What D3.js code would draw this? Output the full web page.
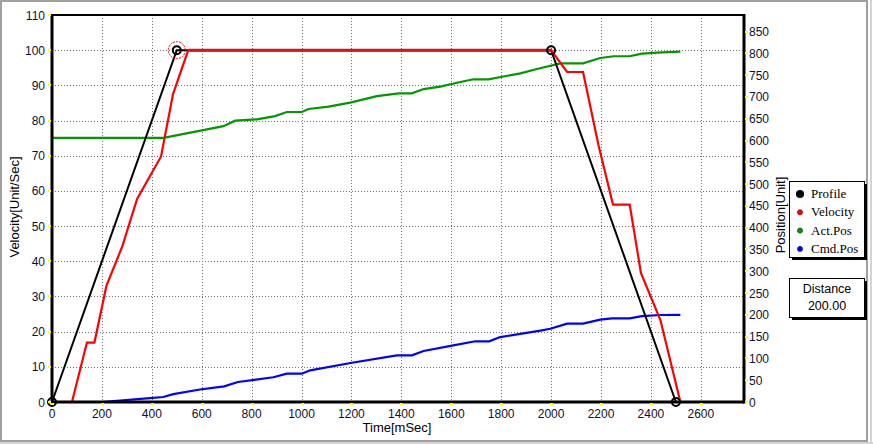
<!DOCTYPE html>
<html><head><meta charset="utf-8">
<script src="https://cdn.jsdelivr.net/npm/d3@7"></script>
<style>html,body{margin:0;padding:0;background:#fff;}svg{display:block;}</style>
</head><body>
<svg id="c" width="873" height="444"></svg>
<script>
// ---- data ----
const xTicks = [0,200,400,600,800,1000,1200,1400,1600,1800,2000,2200,2400,2600];
const velTicks = [0,10,20,30,40,50,60,70,80,90,100,110];
const posTicks = [0,50,100,150,200,250,300,350,400,450,500,550,600,650,700,750,800,850];
const profileT = [0,500,2000,2500];
const profileV = [0,100,100,0];
const velocityT = [80,140,170,218,282,341,437,485,546,2000,2064,2128,2190,2248,2315,2360,2438,2518];
const velocityV = [0,16.9,16.9,33,44.3,57.7,69.8,87.5,100,100,93.8,93.8,73,56.1,56.1,36.7,23.3,0];
const actPosT = [0,447,687,734,821,894,941,1001,1028,1108,1195,1302,1389,1442,1489,1556,1636,1689,1749,1877,1943,2037,2128,2197,2251,2315,2364,2425,2518];
const actPosV = [606,606,633,645.5,648.7,656,665.4,665.4,672.3,677.6,686.8,702,708.3,708.3,718,723.5,734.3,740.5,740.5,754.2,764,777,777,789.4,793.3,793.3,799.2,801.5,803.8];
const cmdPosT = [0,200,393,446,486,593,690,745,887,941,1001,1035,1202,1382,1442,1489,1603,1696,1752,1796,1957,1997,2064,2128,2197,2244,2315,2364,2438,2518];
const cmdPosV = [0,0,9,11.5,18,28.7,36,46,56.7,65,65,72.7,90,107,107,117,129.2,139.3,139.3,149,163.6,168,179.7,179.7,189,192,192,197,199.6,200];
const legendNames = ["Profile","Velocity","Act.Pos","Cmd.Pos"];
const legendColors = ["#000000","#ff0000","#009900","#0000ff"];
const distanceLabel = "Distance";
const distanceValue = "200.00";

// ---- layout ----
const svg = d3.select("#c");
const L = 52, R = 744, T = 15, B = 402;
const x = d3.scaleLinear().domain([0,2773]).range([L,R]);
const yv = d3.scaleLinear().domain([0,110]).range([B,T]);
const yp = d3.scaleLinear().domain([0,888]).range([B,T]);
const font = "'Liberation Sans', Arial, sans-serif";

// outer frame
svg.append("rect").attr("x",0).attr("y",0).attr("width",873).attr("height",444).attr("fill","#fff");
svg.append("rect").attr("x",1).attr("y",1).attr("width",866).attr("height",440)
  .attr("fill","none").attr("stroke","#a0a0a0").attr("stroke-width",2);
svg.append("line").attr("x1",871).attr("x2",871).attr("y1",0).attr("y2",444).attr("stroke","#d4d4d4").attr("stroke-width",2);
svg.append("line").attr("x1",0).attr("x2",873).attr("y1",443).attr("y2",443).attr("stroke","#d4d4d4").attr("stroke-width",2);

// grid
const g = svg.append("g");
g.selectAll(".gx").data(xTicks.filter(d=>d>0)).join("line")
  .attr("x1",d=>Math.round(x(d))+0.5).attr("x2",d=>Math.round(x(d))+0.5)
  .attr("y1",T).attr("y2",B).attr("stroke","#707070").attr("stroke-dasharray","1,2");
g.selectAll(".gy").data(velTicks.filter(d=>d>0 && d<110)).join("line")
  .attr("x1",L).attr("x2",R).attr("y1",d=>Math.round(yv(d))+0.5).attr("y2",d=>Math.round(yv(d))+0.5)
  .attr("stroke","#707070").attr("stroke-dasharray","1,2");

// series
const mk = (ts,vs,sc)=> d3.line().x((d,i)=>x(ts[i])).y((d,i)=>sc(vs[i]))(ts);
svg.append("path").attr("d",mk(actPosT,actPosV,yp)).attr("fill","none").attr("stroke","#009900").attr("stroke-width",2.2);
svg.append("path").attr("d",mk(cmdPosT,cmdPosV,yp)).attr("fill","none").attr("stroke","#0000ff").attr("stroke-width",2.2);
svg.append("path").attr("d",mk(profileT,profileV,yv)).attr("fill","none").attr("stroke","#000").attr("stroke-width",2);
svg.append("path").attr("d",mk(velocityT,velocityV,yv)).attr("fill","none").attr("stroke","#ff0000").attr("stroke-width",2.2);
// overlap of velocity and profile on plateau (darker red)
svg.append("path").attr("d",mk(velocityT.slice(8,10),velocityV.slice(8,10),yv)).attr("fill","none").attr("stroke","#d01818").attr("stroke-width",3);

// axes spines
svg.append("line").attr("x1",L).attr("x2",R).attr("y1",T).attr("y2",T).attr("stroke","#000").attr("stroke-width",2);
svg.append("line").attr("x1",L).attr("x2",L).attr("y1",T-1).attr("y2",B+1.5).attr("stroke","#000").attr("stroke-width",3);
svg.append("line").attr("x1",R).attr("x2",R).attr("y1",T-1).attr("y2",B+1.5).attr("stroke","#000").attr("stroke-width",3);
svg.append("line").attr("x1",L).attr("x2",R).attr("y1",B).attr("y2",B).attr("stroke","#000").attr("stroke-width",3);

// profile markers
svg.selectAll(".pm").data(profileT).join("circle")
  .attr("cx",d=>x(d)).attr("cy",(d,i)=>yv(profileV[i])).attr("r",4)
  .attr("fill","none").attr("stroke","#000").attr("stroke-width",2);
svg.append("circle").attr("cx",x(profileT[1])).attr("cy",yv(profileV[1])).attr("r",8.5)
  .attr("fill","none").attr("stroke","#ff0000").attr("stroke-width",1).attr("stroke-dasharray","2,1");

// ticks (yellow)
svg.selectAll(".tx").data(xTicks).join("rect")
  .attr("x",d=>Math.round(x(d))-1).attr("y",B+1).attr("width",3).attr("height",2).attr("fill","#ffff00");
svg.selectAll(".tyl").data(velTicks).join("rect")
  .attr("x",L-4).attr("y",d=>Math.round(yv(d))-1).attr("width",3).attr("height",2).attr("fill","#ffff00");
svg.selectAll(".tyr").data(posTicks).join("rect")
  .attr("x",R+1).attr("y",d=>Math.round(yp(d))-1).attr("width",3).attr("height",2).attr("fill","#ffff00");

// tick labels
svg.selectAll(".lx").data(xTicks).join("text")
  .attr("x",d=>x(d)).attr("y",418).attr("text-anchor","middle")
  .attr("font-family",font).attr("font-size",12).attr("fill","#101030").text(d=>d);
svg.selectAll(".lyl").data(velTicks).join("text")
  .attr("x",45).attr("y",d=>yv(d)+4.5).attr("text-anchor","end")
  .attr("font-family",font).attr("font-size",12).attr("fill","#101030").text(d=>d);
svg.selectAll(".lyr").data(posTicks).join("text")
  .attr("x",749).attr("y",d=>yp(d)+4.5).attr("text-anchor","start")
  .attr("font-family",font).attr("font-size",12).attr("fill","#101030").text(d=>d);

// axis titles
svg.append("text").attr("transform","translate(19,207) rotate(-90)").attr("text-anchor","middle")
  .attr("font-family",font).attr("font-size",13).attr("fill","#000").text("Velocity[Unit/Sec]");
svg.append("text").attr("transform","translate(785,215) rotate(-90)").attr("text-anchor","middle")
  .attr("font-family",font).attr("font-size",13).attr("fill","#000").text("Position[Unit]");
svg.append("text").attr("x",397).attr("y",432).attr("text-anchor","middle")
  .attr("font-family",font).attr("font-size",13).attr("fill","#000").text("Time[mSec]");

// legend box
const box = (x0,y0,w,h)=>{
  svg.append("rect").attr("x",x0+3).attr("y",y0+3).attr("width",w).attr("height",h).attr("fill","#000");
  svg.append("rect").attr("x",x0+0.5).attr("y",y0+0.5).attr("width",w).attr("height",h).attr("fill","#fff").attr("stroke","#000").attr("stroke-width",1);
};
box(789,181,75,76);
const lg = svg.append("g");
legendNames.forEach((n,i)=>{
  const yy = 194 + i*18.3;
  lg.append("circle").attr("cx",800).attr("cy",yy).attr("r",i===0?4:2.5)
    .attr("fill",legendColors[i]).attr("stroke",i===0?"none":d3.color(legendColors[i]).darker(1.5)).attr("stroke-width",0.8);
  lg.append("text").attr("x",811).attr("y",yy+4).attr("font-family","'Liberation Serif','Times New Roman',serif")
    .attr("font-size",13).attr("fill","#000").text(n);
});
box(789,278,75,39);
svg.append("text").attr("x",827).attr("y",293).attr("text-anchor","middle").attr("font-family",font).attr("font-size",12.5).attr("fill","#000").text(distanceLabel);
svg.append("text").attr("x",827).attr("y",310).attr("text-anchor","middle").attr("font-family",font).attr("font-size",12.5).attr("fill","#000").text(distanceValue);
</script>
</body></html>
